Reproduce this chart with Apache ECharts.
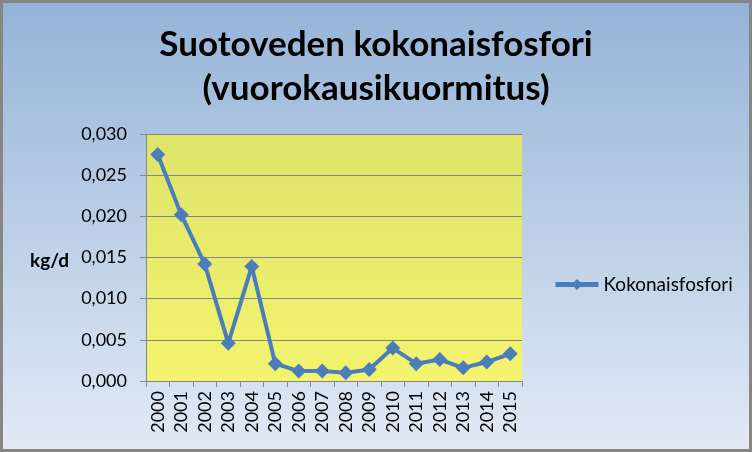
<!DOCTYPE html>
<html><head><meta charset="utf-8">
<script src="https://cdn.jsdelivr.net/npm/echarts@6/dist/echarts.min.js"></script>
<style>html,body{margin:0;padding:0;}#c{width:752px;height:452px;}</style>
</head><body><div id="c"></div>
<script>
const years = ['2000','2001','2002','2003','2004','2005','2006','2007','2008','2009','2010','2011','2012','2013','2014','2015'];
const kokonaisfosfori = [0.0275,0.0202,0.0142,0.0046,0.0139,0.0021,0.0012,0.0012,0.0010,0.0014,0.0040,0.0021,0.0026,0.0016,0.0023,0.0033];
const seriesName = 'Kokonaisfosfori';
const titleText = 'Suotoveden kokonaisfosfori\n(vuorokausikuormitus)';
const yAxisName = 'kg/d';

const chart = echarts.init(document.getElementById('c'));
const font = 'Lato, "Open Sans", sans-serif';
chart.setOption({
  backgroundColor: new echarts.graphic.LinearGradient(0,0,0,1,[
    {offset:0,color:'#95B3D7'},{offset:1,color:'#E2EAF5'}]),
  title: {
    text: titleText, left: 'center', top: 18,
    textStyle: {fontFamily: font, fontSize: 35, fontWeight: 'bold', color: '#000', lineHeight: 44}
  },
  graphic: [{
    type: 'rect', shape: {x: 1.5, y: 1.5, width: 749, height: 449},
    style: {fill: 'none', stroke: '#868686', lineWidth: 3}, silent: true, z: 100
  }, {
    type: 'text', left: 30, top: 251,
    style: {text: yAxisName, font: 'bold 19px ' + font, fill: '#000'}
  }],
  legend: {
    data: [seriesName], left: 548, top: 270, itemWidth: 43, itemHeight: 14, itemGap: 4,
    itemStyle: {color: '#4A7EBB'}, lineStyle: {width: 5, color: '#4A7EBB'},
    textStyle: {fontFamily: font, fontSize: 19, color: '#000'}
  },
  grid: {
    left: 146, right: 230, top: 134, bottom: 71, show: true, borderWidth: 0,
    backgroundColor: new echarts.graphic.LinearGradient(0,0,0,1,[
      {offset:0,color:'#DEE36A'},{offset:1,color:'#F3F36E'}])
  },
  xAxis: {
    type: 'category', data: years, boundaryGap: true,
    axisLine: {lineStyle: {color: '#868686', width: 1}},
    axisTick: {show: true, length: 6, lineStyle: {color: '#868686'}},
    axisLabel: {rotate: 90, fontFamily: font, fontSize: 18, color: '#000', margin: 10}
  },
  yAxis: {
    type: 'value', min: 0, max: 0.03, interval: 0.005,
    axisLine: {show: true, lineStyle: {color: '#868686', width: 1}},
    axisTick: {show: true, length: 6, lineStyle: {color: '#868686'}},
    splitLine: {lineStyle: {color: '#868686', width: 1}},
    axisLabel: {fontFamily: font, fontSize: 18, color: '#000', margin: 19,
      formatter: v => v.toFixed(3).replace('.', ',')}
  },
  series: [{
    name: seriesName, type: 'line', data: kokonaisfosfori,
    symbol: 'diamond', symbolSize: 15,
    lineStyle: {color: '#4A7EBB', width: 4},
    itemStyle: {color: '#4A7EBB'}
  }]
});
</script></body></html>
